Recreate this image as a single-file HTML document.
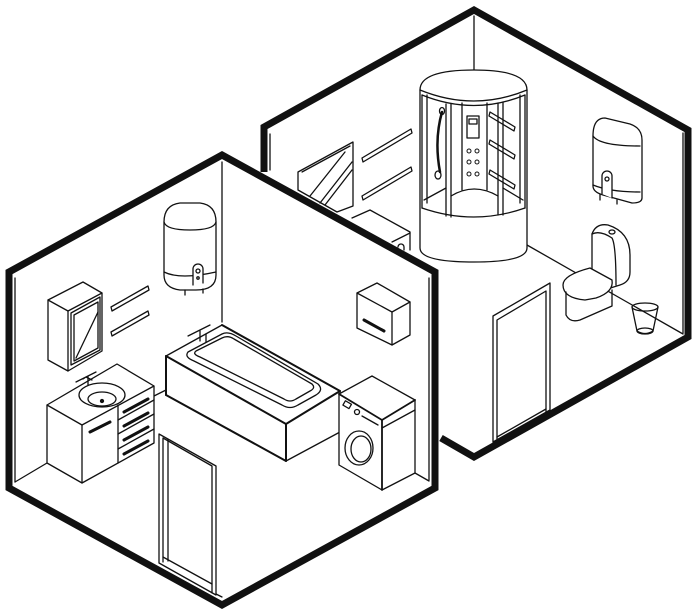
<!DOCTYPE html>
<html><head><meta charset="utf-8"><style>
html,body{margin:0;padding:0;background:#fff;}
svg{display:block;}
</style></head><body>
<svg width="697" height="610" viewBox="0 0 697 610" xmlns="http://www.w3.org/2000/svg" fill="none" stroke="#111" stroke-linejoin="round" stroke-linecap="round">
<!-- RIGHT ROOM -->
<g stroke-width="1.3">
  <line x1="474" y1="16" x2="474" y2="80"/>
  <line x1="683" y1="133" x2="683" y2="333"/>
  <line x1="527" y1="245" x2="683" y2="334"/>
  <line x1="270" y1="134" x2="270" y2="170"/>
  <polygon points="298,172 353,142 353,206 337,212 298,190"/>
  <line x1="302" y1="172" x2="350" y2="146"/>
  <line x1="310" y1="196" x2="345" y2="152"/>
  <line x1="320" y1="203" x2="352" y2="162"/>
  <line x1="325" y1="205" x2="352" y2="170"/>
  <path d="M362,158 L411,129 L412,133 L363,162 Z"/>
  <path d="M362,196 L411,167 L412,171 L363,200 Z"/>
  <polyline points="352,218 370,210 410,232 410,250"/>
  <line x1="392" y1="242" x2="410" y2="233"/>
  <path d="M398,247 a3,3 0 0 1 6,0 v3"/>
  <path d="M420,90 Q420,70 474,70 Q527,70 527,90 L527,248 Q527,262 474,262 Q420,262 420,248 Z" fill="#fff"/>
  <path d="M420,90 Q474,112 527,90"/>
  <path d="M422,95 Q474,116 525,95"/>
  <path d="M422,208 Q474,226 525,208"/>
  <line x1="422" y1="95" x2="422" y2="208"/>
  <line x1="525" y1="95" x2="525" y2="208"/>
  <line x1="446" y1="104" x2="446" y2="216"/>
  <line x1="451" y1="104" x2="451" y2="217"/>
  <line x1="498" y1="103" x2="498" y2="215"/>
  <line x1="503" y1="102" x2="503" y2="215"/>
  <line x1="427" y1="95" x2="427" y2="203"/>
  <line x1="520" y1="95" x2="520" y2="203"/>
  <line x1="462" y1="103" x2="462" y2="190"/>
  <line x1="487" y1="103" x2="487" y2="190"/>
  <path d="M451,196 Q474,182 498,196"/>
  <path d="M424,200 L446,188"/><path d="M503,188 L523,200"/>
  <rect x="467" y="116" width="12" height="22"/>
  <rect x="469" y="119" width="8" height="5"/>
  <g stroke-width="1"><circle cx="469" cy="151" r="2"/><circle cx="477" cy="151" r="2"/><circle cx="469" cy="162" r="2"/><circle cx="477" cy="162" r="2"/><circle cx="469" cy="174" r="2"/><circle cx="477" cy="174" r="2"/></g>
  <path d="M442,112 Q434,140 440,172" stroke-width="2.5"/>
  <ellipse cx="442" cy="111" rx="2.5" ry="3.5"/>
  <ellipse cx="438" cy="175" rx="3" ry="4"/>
  <path d="M490,112 L515,127 L514,131 L489,116 Z"/>
  <path d="M490,140 L515,155 L514,159 L489,144 Z"/>
  <path d="M490,170 L515,185 L514,189 L489,174 Z"/>
  <path d="M593,136 Q593,118 605,118 L630,124 Q642,128 642,140 L642,198 Q642,203 632,203 L603,195 Q593,192 593,186 Z" fill="#fff"/>
  <path d="M593,136 Q600,146 640,146"/>
  <path d="M593,185 Q610,192 640,192"/>
  <path d="M602,194 v-18 a5,5 0 0 1 10,0 v22" fill="#fff"/>
  <circle cx="607" cy="179" r="2"/>
  <line x1="600" y1="194" x2="600" y2="200"/><line x1="617" y1="200" x2="617" y2="204"/>
  <path d="M592,234 Q596,223 608,225 Q630,232 630,255 L630,272 Q630,282 620,285 L604,290 L592,282 Z" fill="#fff"/>
  <path d="M592,234 Q600,230 612,238 Q616,245 616,285"/>
  <ellipse cx="612" cy="232" rx="3" ry="2"/>
  <path d="M563,285 Q563,275 590,268 L612,280 Q614,292 596,298 L585,300 Q563,298 563,285 Z" fill="#fff"/>
  <path d="M566,292 L566,315 Q570,323 580,320 L612,306 L612,290"/>
  <ellipse cx="645" cy="307" rx="13" ry="4"/>
  <path d="M632,307 L637,331 Q645,336 653,331 L658,307"/>
  <ellipse cx="645" cy="331" rx="8" ry="3"/>
  <polygon points="493,316 550,283 550,410 493,442"/>
  <polyline points="497,441 497,320 546,291 546,412"/>
  <polyline points="497,437 546,409"/>
</g>
<polyline points="264,172 264,127 474,10 688,130 688,337 474,457 441,438" stroke-width="7" stroke-linejoin="miter" stroke-linecap="butt"/>
<!-- LEFT ROOM -->
<polygon points="222,155 435,272 435,488 222,605 9,488 9,272" fill="#fff" stroke="none"/>
<g stroke-width="1.3">
  <line x1="222" y1="162" x2="222" y2="322"/>
  <line x1="15" y1="278" x2="15" y2="482"/>
  <line x1="15" y1="482" x2="47" y2="463"/>
  <line x1="429" y1="278" x2="429" y2="480"/>
  <line x1="415" y1="473" x2="429" y2="481"/>
  <line x1="154" y1="396" x2="166" y2="390"/>
  <line x1="216" y1="594" x2="222" y2="597"/>
  <line x1="340" y1="420" x2="340" y2="432"/>
  <path d="M164,222 Q164,205 180,203 L200,203 Q216,205 216,222 L216,275 Q216,290 196,290 L180,290 Q164,288 164,275 Z" fill="#fff"/>
  <path d="M164,222 Q166,230 190,230 Q214,230 216,222"/>
  <path d="M164,272 Q180,280 216,272"/>
  <path d="M193,285 v-16 a5,5 0 0 1 10,0 v14" fill="#fff"/>
  <circle cx="198" cy="271" r="2"/><circle cx="198" cy="278" r="1.2"/>
  <line x1="185" y1="290" x2="185" y2="295"/><line x1="203" y1="289" x2="203" y2="293"/>
  <polygon points="48,300 83,282 102,293 102,351 68,371 48,360" fill="#fff"/>
  <polyline points="48,300 68,311 102,293"/>
  <line x1="68" y1="311" x2="68" y2="371"/>
  <polygon points="71,313 100,297 100,350 71,365"/>
  <polygon points="74,315 98,302 98,348 74,361"/>
  <line x1="76" y1="358" x2="98" y2="312"/>
  <path d="M111,307 L148,286 L149,290 L112,311 Z"/>
  <path d="M111,332 L148,311 L149,315 L112,336 Z"/>
  <polygon points="47,405 117,364 154,386 154,443 82,483 47,463" fill="#fff"/>
  <polyline points="47,405 82,425 154,386"/>
  <line x1="82" y1="425" x2="82" y2="483"/>
  <line x1="118" y1="405" x2="118" y2="463"/>
  <line x1="118" y1="420" x2="154" y2="400"/>
  <line x1="118" y1="434" x2="154" y2="414"/>
  <line x1="118" y1="449" x2="154" y2="429"/>
  <path d="M124,412 L148,399" stroke-width="3"/>
  <path d="M124,426 L148,413" stroke-width="3"/>
  <path d="M124,440 L148,427" stroke-width="3"/>
  <path d="M124,454 L148,441" stroke-width="3"/>
  <path d="M90,432 L110,422" stroke-width="3"/>
  <ellipse cx="102" cy="395" rx="23" ry="12"/>
  <ellipse cx="102" cy="399" rx="14" ry="7"/>
  <circle cx="102" cy="401" r="1.5" fill="#111"/>
  <path d="M76,382 L96,372 M88,376 v9 M83,379 l3,-2 l6,3"/>
  <polygon points="166,356 222,325 340,391 340,432 286,461 166,395" fill="#fff"/>
  <polyline points="166,356 286,424 340,391" stroke-width="2"/>
  <line x1="286" y1="424" x2="286" y2="461" stroke-width="2"/>
  <line x1="166" y1="356" x2="166" y2="395" stroke-width="2"/>
  <line x1="166" y1="395" x2="286" y2="461" stroke-width="2"/>
  <line x1="222" y1="325" x2="340" y2="391" stroke-width="2"/>
  <path d="M188,352 L222,334 Q228,331 236,336 L318,384 Q324,390 316,395 L298,405 Q290,410 282,405 L194,361 Q184,357 188,352 Z"/>
  <path d="M196,351 L222,338 Q228,335 234,339 L312,384 Q316,388 310,391 L296,399 Q290,403 284,399 L200,357 Q192,354 196,351 Z"/>
  <path d="M188,336 L210,325 M200,331 v10 M206,334 v8"/>
  <polygon points="339,394 372,376 415,400 415,473 382,490 339,465" fill="#fff"/>
  <polyline points="339,394 382,420 415,400" stroke-width="1.8"/>
  <line x1="382" y1="420" x2="382" y2="490" stroke-width="1.8"/>
  <line x1="382" y1="428" x2="415" y2="410"/>
  <rect x="344" y="402" width="7" height="5" transform="rotate(30 347 404)"/>
  <circle cx="357" cy="412" r="2.5"/>
  <path d="M362,416 L378,425"/>
  <ellipse cx="359" cy="448" rx="14" ry="17"/>
  <ellipse cx="361" cy="449" rx="10" ry="13"/>
  <polygon points="357,293 377,283 410,302 410,335 392,345 357,328" fill="#fff"/>
  <polyline points="357,293 392,312 410,302"/>
  <line x1="392" y1="312" x2="392" y2="345"/>
  <path d="M364,320 L384,331" stroke-width="3"/>
  <polygon points="159,434 216,466 216,595 159,563"/>
  <polyline points="163,562 163,438 212,466 212,593"/>
  <polyline points="163,557 212,584"/>
  <line x1="168" y1="440" x2="168" y2="561"/>
</g>
<polygon points="222,155 435,272 435,488 222,605 9,488 9,272" stroke-width="7" stroke-linejoin="miter"/>
</svg>
</body></html>
